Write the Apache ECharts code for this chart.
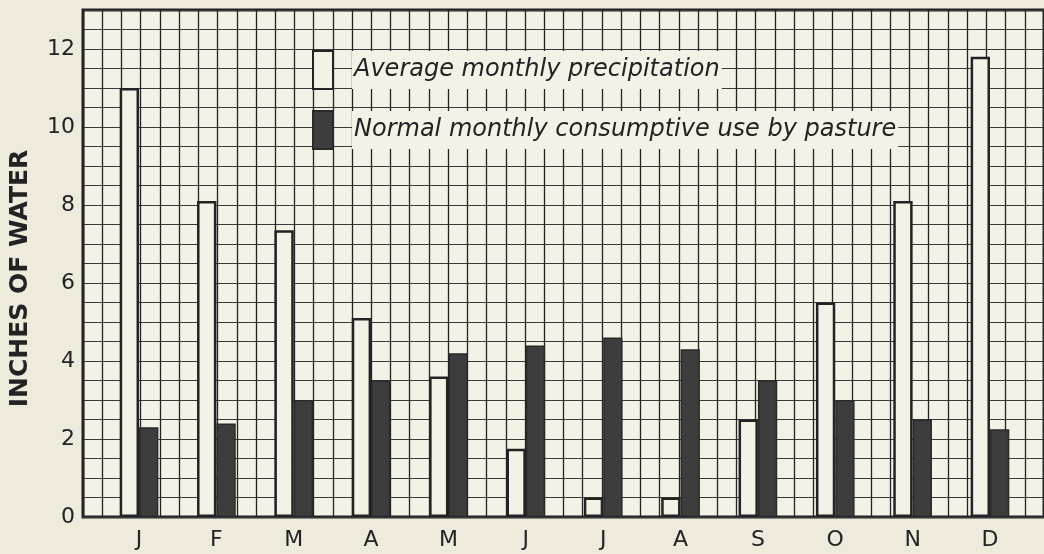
<!DOCTYPE html>
<html><head><meta charset="utf-8">
<script src="https://cdn.jsdelivr.net/npm/echarts@6/dist/echarts.min.js"></script>
<style>html,body{margin:0;padding:0;background:#eeeadc;}#c{width:1044px;height:554px;}</style>
</head><body><div id="c"></div>
<script>
const months = ['J','F','M','A','M','J','J','A','S','O','N','D'];
const precipitation = [11.0, 8.1, 7.35, 5.1, 3.6, 1.75, 0.5, 0.5, 2.5, 5.5, 8.1, 11.8];
const consumptive = [2.3, 2.4, 3.0, 3.5, 4.2, 4.4, 4.6, 4.3, 3.5, 3.0, 2.5, 2.25];
const yTicks = [0, 2, 4, 6, 8, 10, 12];
const seriesNames = ['Average monthly precipitation', 'Normal monthly consumptive use by pasture'];
const yTitle = 'INCHES OF WATER';

const PLOT_L = 81, PLOT_T = 10, PLOT_W = 967, PLOT_H = 507;
const NCOL = 50;
const COL = PLOT_W / NCOL;
const INK = '#232323';
const PAPER = '#f4f2e7';
const FONT = 'DejaVu Sans';

const chart = echarts.init(document.getElementById('c'), null, {renderer: 'canvas'});
chart.setOption({
  backgroundColor: '#eeeadc',
  animation: false,
  grid: [
    {left: PLOT_L, top: PLOT_T, width: PLOT_W, height: PLOT_H, show: true,
     backgroundColor: PAPER, borderColor: INK, borderWidth: 3, z: 0},
    {left: PLOT_L + COL, top: PLOT_T, width: COL * 48, height: PLOT_H}
  ],
  xAxis: [
    {type: 'value', gridIndex: 0, min: 0, max: NCOL, interval: 1,
     axisLine: {show: false}, axisTick: {show: false}, axisLabel: {show: false},
     splitLine: {show: true, lineStyle: {color: INK, width: 1.3}}},
    {type: 'category', gridIndex: 1, data: months, boundaryGap: true,
     axisLine: {show: false}, axisTick: {show: false},
     axisLabel: {fontFamily: FONT, fontSize: 22, color: INK, margin: 12}}
  ],
  yAxis: [
    {type: 'value', gridIndex: 0, min: 0, max: 13, interval: 0.5,
     axisLine: {show: false}, axisTick: {show: false},
     axisLabel: {fontFamily: FONT, fontSize: 22, color: INK, margin: 8,
       formatter: v => yTicks.includes(v) ? String(v) : ''},
     splitLine: {show: true, lineStyle: {color: '#3a3a3a', width: 1}},
     name: yTitle, nameLocation: 'middle', nameGap: 50,
     nameTextStyle: {fontFamily: FONT, fontWeight: 'bold', fontSize: 25, color: INK, padding: [0, 30, 0, 0]}},
    {type: 'value', gridIndex: 1, min: 0, max: 13, show: false}
  ],
  legend: {
    orient: 'vertical', left: 312, top: 50, padding: 0,
    itemWidth: 20, itemHeight: 38, itemGap: 20, icon: 'rect',
    selectedMode: false, data: seriesNames,
    formatter: n => '{g|}{t|' + n + '}',
    textStyle: {rich: {
      g: {width: 14},
      t: {fontFamily: FONT, fontStyle: 'italic', fontSize: 24, color: INK,
          backgroundColor: PAPER, height: 38, lineHeight: 38, padding: [0, 2]}
    }}
  },
  series: [
    {type: 'bar', name: seriesNames[0], xAxisIndex: 1, yAxisIndex: 1, data: precipitation,
     barWidth: COL, barGap: '0%', z: 3,
     itemStyle: {color: PAPER, borderColor: INK, borderWidth: 2.5}},
    {type: 'bar', name: seriesNames[1], xAxisIndex: 1, yAxisIndex: 1, data: consumptive,
     barWidth: COL, barGap: '0%', z: 3,
     itemStyle: {color: '#3d3d3d', borderColor: '#2a2a2a', borderWidth: 1.5}}
  ]
});
</script></body></html>
